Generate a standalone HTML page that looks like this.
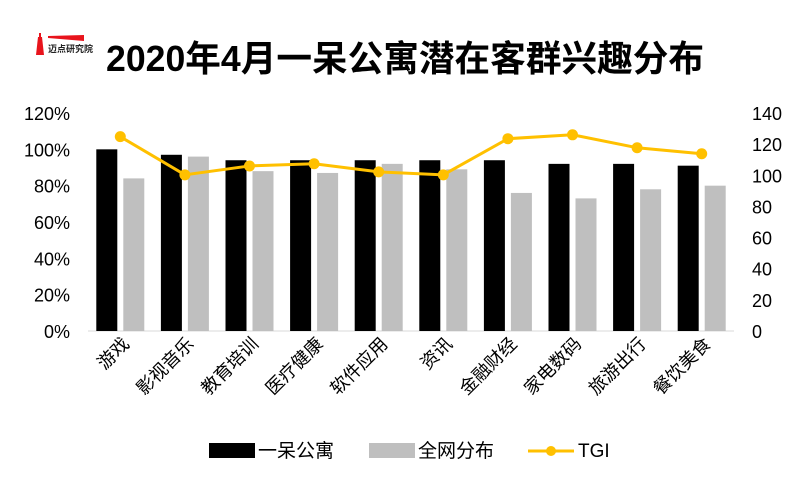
<!DOCTYPE html>
<html><head><meta charset="utf-8"><style>
body{margin:0;background:#fff;width:800px;height:481px;overflow:hidden;font-family:"Liberation Sans","Noto Sans CJK SC",sans-serif}
</style></head><body>
<svg width="800" height="481" id="svg" xmlns="http://www.w3.org/2000/svg">
<g>
<polygon points="38,37 42,37 44,55 36,55" fill="#e8141c"/>
<polygon points="39,33 41,33 41,37 39,37" fill="#e8141c"/>
<polygon points="48,36 84,35 84,41 48,38" fill="#e8141c"/>
<text x="48" y="52" font-size="9" font-weight="bold" fill="#222">迈点研究院</text>
</g>
<text x="405" y="71" text-anchor="middle" font-size="36" font-weight="bold" fill="#000" textLength="598" lengthAdjust="spacingAndGlyphs">2020年4月一呆公寓潜在客群兴趣分布</text>
<g id="plot"></g>
<g>
<rect x="209" y="443" width="46" height="15" fill="#000"/>
<text x="258" y="457" font-size="19">一呆公寓</text>
<rect x="369" y="443" width="46" height="15" fill="#bfbfbf"/>
<text x="418" y="457" font-size="19">全网分布</text>
<line x1="528" y1="451" x2="574" y2="451" stroke="#ffc000" stroke-width="3"/>
<circle cx="551" cy="451" r="5" fill="#ffc000"/>
<text x="578" y="457" font-size="19">TGI</text>
</g>
</svg>
<script>
const categories=["游戏","影视音乐","教育培训","医疗健康","软件应用","资讯","金融财经","家电数码","旅游出行","餐饮美食"];
const yidai=[100,97,94,94,94,94,94,92,92,91];
const quanwang=[84,96,88,87,92,89,76,73,78,80];
const tgi=[124.8,100.3,106,107.4,102.2,100.3,123.5,126,117.7,113.8];
const leftTicks=[0,20,40,60,80,100,120];
const rightTicks=[0,20,40,60,80,100,120,140];
const NS="http://www.w3.org/2000/svg";
const g=document.getElementById('plot');
const L=88,R=734,T=113,B=331;
const yL=v=>B-(v/120)*(B-T), yR=v=>B-(v/140)*(B-T);
const bw=(R-L)/categories.length;
const cx=i=>L+bw*(i+0.5);
function el(t,a){const e=document.createElementNS(NS,t);for(const k in a)e.setAttribute(k,a[k]);g.appendChild(e);return e;}
leftTicks.forEach(v=>{const t=el('text',{x:70,y:yL(v)+7,'text-anchor':'end','font-size':18});t.textContent=v+'%';

});
rightTicks.forEach(v=>{const t=el('text',{x:752,y:yR(v)+7,'font-size':18});t.textContent=v;

});
const ax=el('line',{x1:L,x2:R,y1:B,y2:B,stroke:'#d9d9d9','stroke-width':1});


categories.forEach((c,i)=>{
 const b1=el('rect',{x:cx(i)-24,y:yL(yidai[i]),width:21,height:B-yL(yidai[i]),fill:'#000'});
 
 
 const b2=el('rect',{x:cx(i)+3,y:yL(quanwang[i]),width:21,height:B-yL(quanwang[i]),fill:'#bfbfbf'});
 
 
 const t=el('text',{x:cx(i)+10,y:345,'text-anchor':'end','font-size':18,transform:`rotate(-45 ${cx(i)+10} 345)`});
 t.textContent=c;
 
 
});
const ln=el('polyline',{points:tgi.map((v,i)=>cx(i)+','+yR(v)).join(' '),fill:'none',stroke:'#ffc000','stroke-width':3});


tgi.forEach((v,i)=>{const c=el('circle',{cx:cx(i),cy:yR(v),r:5.5,fill:'#ffc000'});

});
</script>
</body></html>
